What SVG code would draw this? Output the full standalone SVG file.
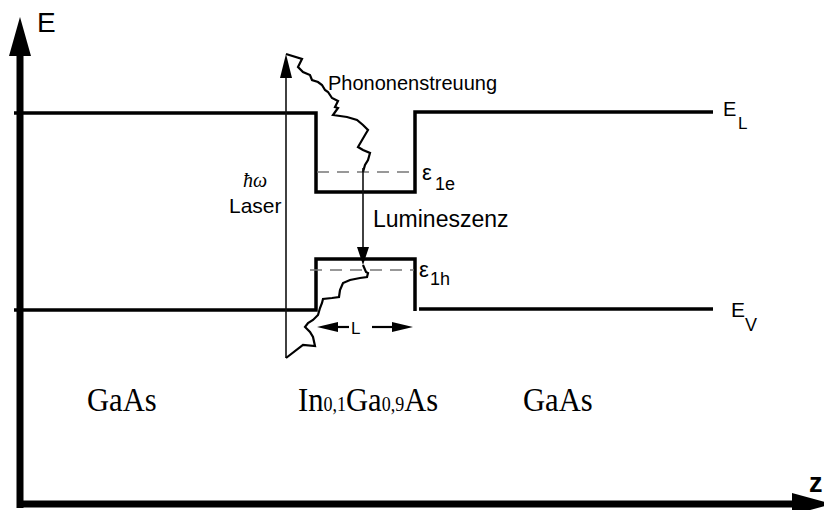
<svg xmlns="http://www.w3.org/2000/svg" width="824" height="510" viewBox="0 0 824 510">
<style>
.band{fill:none;stroke:#000;stroke-width:3.5;stroke-linejoin:miter}
.axis{fill:none;stroke:#000;stroke-width:7}
.dash{fill:none;stroke:#777;stroke-width:1.5;stroke-dasharray:12 8}
.thin{fill:none;stroke:#111;stroke-width:1.6;stroke-linejoin:miter}
.zig{fill:none;stroke:#000;stroke-width:2.2;stroke-linejoin:miter}
.sans{font-family:"Liberation Sans",Arial,sans-serif;fill:#000}
.serif{font-family:"Liberation Serif","Times New Roman",serif;fill:#000}
</style>
<rect width="824" height="510" fill="#fff"/>
<g id="axes">
<path class="axis" d="M20,508 V52"/>
<polygon points="20,17 9,56 31,56"/>
<path class="axis" d="M17,504 H795"/>
<polygon points="792,493 832,504 792,515"/>
<text class="sans" x="37" y="32" font-size="28">E</text>
<text class="sans" x="809" y="492" font-size="27" font-weight="bold">z</text>
</g>
<g id="conduction-band">
<path class="band" d="M14,113 H316 V192 H415 V112 H713"/>
<path class="dash" d="M317,172 H414"/>
<text class="sans" x="723" y="116" font-size="20">E</text>
<text class="sans" x="738" y="129" font-size="17">L</text>
<text class="sans" x="422" y="180" font-size="22">ε</text>
<text class="sans" x="435" y="190" font-size="18">1e</text>
</g>
<g id="valence-band">
<path class="band" d="M14,310 H316 V259 H415 V311"/>
<path class="band" d="M419,309 H713"/>
<path class="dash" d="M310,270 H414"/>
<text class="sans" x="731" y="317" font-size="21">E</text>
<text class="sans" x="745" y="331" font-size="18">V</text>
<text class="sans" x="419" y="277" font-size="22">ε</text>
<text class="sans" x="430" y="285" font-size="18">1h</text>
</g>
<g id="connectors">
<path class="thin" d="M286,358 V76"/>
<polygon points="286,54 280,78 292,78"/>
<path class="zig" d="M286,54 L302,59 L298,67 L303,72 L310,75 L312,80 L318,82 L322,85 L325,90 L328,92 L332,98 L338,101 L335,107 L338,108 L333,115 L347,117 L357,120 L363,125 L368,130 L365,135 L358,147 L363,150 L370,153 L368,160 L365,165 L363,172"/>
<path class="thin" d="M363,168 V250"/>
<polygon points="363,265 357,247 369,247"/>
<path class="zig" d="M363,265 L366,272 L368,273 L367,277 L360,278 L350,280 L343,283 L340,290 L339,297 L332,298 L323,299 L322,303 L320,308 L318,315 L313,320 L308,323 L305,327 L310,332 L313,337 L315,346 L303,345 L286,358"/>
<polygon points="317,327 338,322 338,332"/>
<path class="zig" d="M337,327 H349"/>
<path class="zig" d="M372,327 H393"/>
<polygon points="413,327 392,322 392,332"/>
</g>
<g id="labels">
<text class="sans" x="328" y="90" font-size="20">Phononenstreuung</text>
<text class="sans" x="373" y="227" font-size="23">Lumineszenz</text>
<text class="serif" x="243" y="187" font-size="20" font-style="italic">ħω</text>
<text class="sans" x="229" y="213" font-size="21">Laser</text>
<text class="sans" x="351" y="334" font-size="17">L</text>
</g>
<g id="materials">
<text class="serif" transform="translate(87,411) scale(0.9,1)" font-size="34">GaAs</text>
<text class="serif" transform="translate(298,411) scale(0.9,1)" font-size="34">In<tspan font-size="20">0,1</tspan>Ga<tspan font-size="20">0,9</tspan>As</text>
<text class="serif" transform="translate(523,411) scale(0.9,1)" font-size="34">GaAs</text>
</g>
</svg>
